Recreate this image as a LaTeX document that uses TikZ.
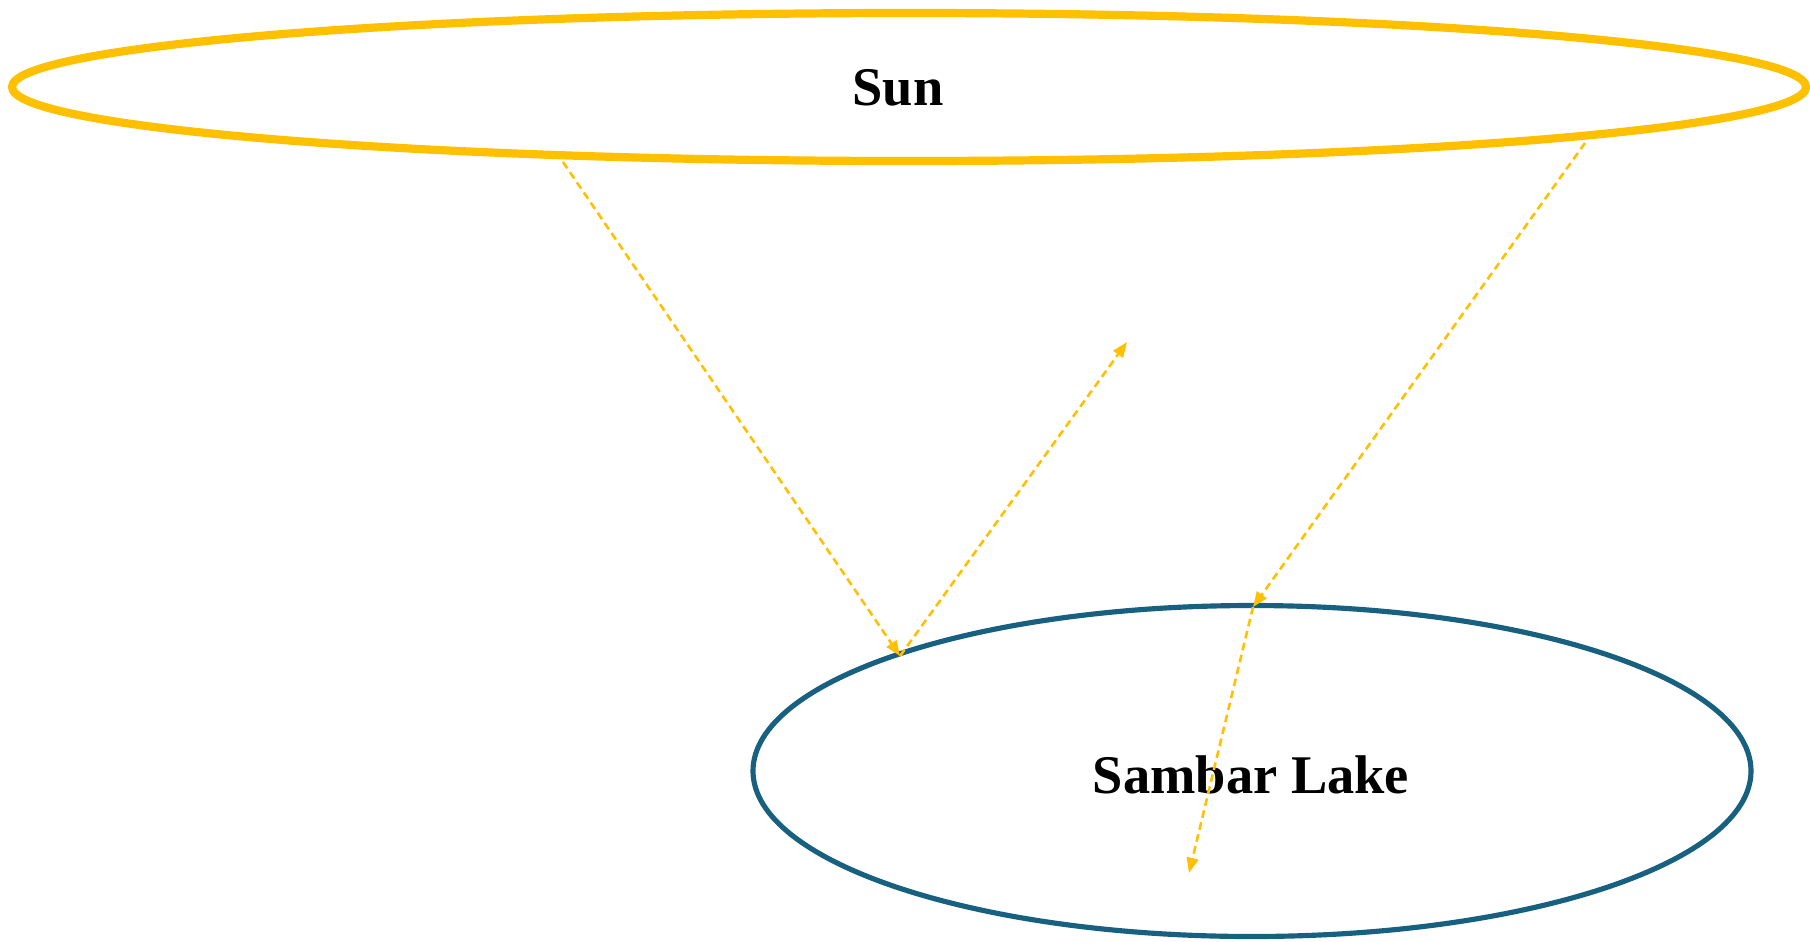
\documentclass[tikz,border=0pt]{standalone}
\usepackage{fontspec}
\setmainfont{Liberation Serif}
\usetikzlibrary{shapes.geometric,arrows.meta}
\definecolor{sunc}{RGB}{255,192,0}
\definecolor{lakec}{RGB}{24,96,128}
\tikzset{
  sunbox/.style={ellipse, draw=sunc, line width=7pt, inner sep=0pt, minimum width=1794*0.03cm, minimum height=148*0.03cm},
  lakebox/.style={ellipse, draw=lakec, line width=4.4pt, inner sep=0pt, minimum width=998*0.03cm, minimum height=331*0.03cm},
  ray/.style={draw=sunc, line width=2.2pt, dash pattern=on 6.5pt off 4pt, -{Triangle[length=13pt,width=10pt]}},
  lbl/.style={font=\bfseries\fontsize{46.5}{54}\selectfont}
}
\begin{document}
\begin{tikzpicture}[x=0.03cm,y=-0.03cm]
\useasboundingbox (0,0) rectangle (1810,941);
\node[sunbox] (sun) at (909,87) {};
\node[lbl] (suntext) at (898,88) {Sun};
\node[lakebox] (lake) at (1252,771) {};
\node[lbl] (laketext) at (1251,775) {Sambar Lake};
\coordinate (a1) at (563,162);
\coordinate (p1) at (900,656);
\coordinate (t2) at (1127,342);
\coordinate (a3) at (1585,143);
\coordinate (p3) at (1253,607);
\coordinate (t4) at (1189,873);
\draw[ray] (a1) -- (p1);
\draw[ray] (p1) -- (t2);
\draw[ray] (a3) -- (p3);
\draw[ray] (p3) -- (t4);
\end{tikzpicture}
\end{document}
